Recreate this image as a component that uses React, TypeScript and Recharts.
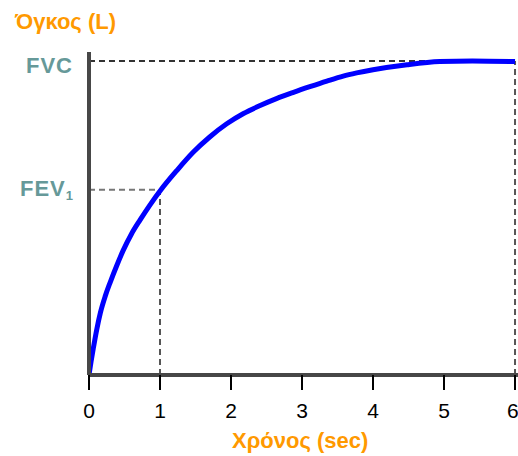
import React from 'react';
import { LineChart, Line, XAxis, YAxis, ReferenceLine } from 'recharts';

// spirometry curve (time in sec, volume in L)
const TIME_SEC = [0, 0.03, 0.06, 0.11, 0.16, 0.23, 0.3, 0.39, 0.48, 0.6, 0.72, 0.86, 1.0, 1.24, 1.47, 1.7, 1.94, 2.17, 2.41, 2.64, 2.88, 3.11, 3.35, 3.58, 3.77, 4.0, 4.48, 4.94, 5.4, 6.0];
const VOLUME_L = [0, 0.22, 0.42, 0.73, 0.99, 1.26, 1.48, 1.74, 1.98, 2.25, 2.47, 2.71, 2.93, 3.26, 3.55, 3.79, 4.0, 4.16, 4.29, 4.4, 4.5, 4.59, 4.68, 4.76, 4.81, 4.86, 4.94, 4.99, 5.0, 4.99];
const X_TICKS = [0, 1, 2, 3, 4, 5, 6];
const FVC = 5.0;
const FEV1 = 2.95;
const FEV_TIME = 1;
const END_TIME = 6;

const data = TIME_SEC.map((t, i) => ({ t, v: VOLUME_L[i] }));

const FONT = '"Liberation Sans", Arial, sans-serif';
const ORANGE = '#ff9900';
const TEAL = '#669999';

const YTick = (props: any) => {
  const { x, y, payload } = props;
  if (payload.value === FVC) {
    return (
      <text x={x - 16} y={y + 12} textAnchor="end" fill={TEAL} fontSize={22} fontWeight="bold" fontFamily={FONT} letterSpacing={1}>
        FVC
      </text>
    );
  }
  return (
    <text x={x - 15} y={y + 6} textAnchor="end" fill={TEAL} fontSize={22} fontWeight="bold" fontFamily={FONT} letterSpacing={1}>
      FEV
      <tspan fontSize={13} dy={4}>1</tspan>
    </text>
  );
};

export default function App() {
  return (
    <div style={{ position: 'absolute', left: 0, top: 0, width: 518, height: 456, fontFamily: FONT }}>
      <LineChart width={518} height={456} data={data} margin={{ top: 52, right: 0, left: 9, bottom: 41 }}>
        <XAxis
          dataKey="t"
          type="number"
          domain={[0, 6.042]}
          ticks={X_TICKS}
          allowDataOverflow
          height={40}
          axisLine={{ stroke: '#474747', strokeWidth: 4 }}
          tickLine={{ stroke: '#000', strokeWidth: 2 }}
          tickSize={15}
          tickMargin={13}
          tick={{ fill: '#000', fontSize: 21, fontFamily: FONT }}
        />
        <YAxis
          type="number"
          domain={[0, 5.143]}
          ticks={[FEV1, FVC]}
          allowDataOverflow
          width={80}
          axisLine={{ stroke: '#474747', strokeWidth: 4 }}
          tickLine={false}
          tickSize={0}
          tickMargin={0}
          tick={<YTick />}
        />
        <ReferenceLine segment={[{ x: 0, y: FVC }, { x: END_TIME, y: FVC }]} stroke="#333" strokeWidth={2} strokeDasharray="6 4" />
        <ReferenceLine segment={[{ x: END_TIME, y: 0 }, { x: END_TIME, y: FVC }]} stroke="#555" strokeWidth={2} strokeDasharray="6 4" />
        <ReferenceLine segment={[{ x: 0, y: FEV1 }, { x: FEV_TIME, y: FEV1 }]} stroke="#777" strokeWidth={2} strokeDasharray="6 4" />
        <ReferenceLine segment={[{ x: FEV_TIME, y: 0 }, { x: FEV_TIME, y: FEV1 }]} stroke="#555" strokeWidth={2} strokeDasharray="6 4" />
        <Line
          type="monotone"
          dataKey="v"
          stroke="#0000ff"
          strokeWidth={5}
          dot={false}
          isAnimationActive={false}
        />
      </LineChart>
      <div style={{ position: 'absolute', left: 15, top: 9, color: ORANGE, fontSize: 22, fontWeight: 'bold', lineHeight: '26px', whiteSpace: 'nowrap' }}>
        Όγκος (L)
      </div>
      <div style={{ position: 'absolute', left: 232, top: 428, color: ORANGE, fontSize: 22, fontWeight: 'bold', lineHeight: '26px', whiteSpace: 'nowrap' }}>
        Χρόνος (sec)
      </div>
    </div>
  );
}
